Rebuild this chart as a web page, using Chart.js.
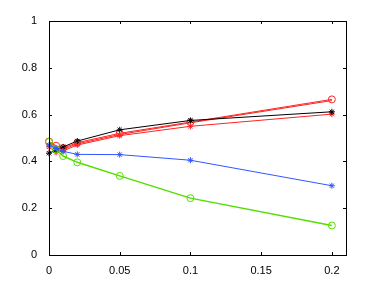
<!DOCTYPE html>
<html><head><meta charset="utf-8">
<script src="https://cdn.jsdelivr.net/npm/chart.js@4/dist/chart.umd.min.js"></script>
<style>html,body{margin:0;padding:0;background:#fff}#wrap{width:382px;height:287px}</style>
</head><body><div id="wrap"><canvas id="c" width="382" height="287"></canvas></div>
<script>
const xValues = [0, 0.005, 0.01, 0.02, 0.05, 0.1, 0.2];
const blackStar = [0.435, 0.448, 0.462, 0.487, 0.535, 0.575, 0.612];
const redCircle = [0.485, 0.467, 0.457, 0.480, 0.520, 0.568, 0.665];
const redPlain = [0.480, 0.462, 0.452, 0.475, 0.515, 0.565, 0.660];
const redStar = [0.462, 0.438, 0.445, 0.470, 0.510, 0.550, 0.602];
const blueStar = [0.470, 0.455, 0.443, 0.430, 0.429, 0.405, 0.296];
const greenCircle = [0.483, 0.451, 0.423, 0.396, 0.338, 0.243, 0.126];
const xTicks = [0, 0.05, 0.1, 0.15, 0.2];
const yTicks = [0, 0.2, 0.4, 0.6, 0.8, 1];

const pts = arr => arr.map((v, i) => ({x: xValues[i], y: v}));
function ds(arr, color, style, r, lw) {
  return {data: pts(arr), borderColor: color, backgroundColor: 'rgba(0,0,0,0)',
    pointStyle: style, pointRadius: r, pointBorderColor: color, pointBorderWidth: 1,
    borderWidth: lw, tension: 0, clip: false, pointHoverRadius: r};
}
const frame = {
  id: 'frame',
  afterDraw(chart) {
    const {ctx, chartArea: a, scales: {x, y}} = chart;
    ctx.save();
    ctx.strokeStyle = '#000';
    ctx.lineWidth = 1;
    ctx.strokeRect(Math.round(a.left) + 0.5, Math.round(a.top) + 0.5, Math.round(a.right - a.left), Math.round(a.bottom - a.top));
    ctx.beginPath();
    const L = 3;
    xTicks.forEach(t => {
      const px = Math.round(x.getPixelForValue(t)) + 0.5;
      ctx.moveTo(px, a.bottom); ctx.lineTo(px, a.bottom - L);
      ctx.moveTo(px, a.top); ctx.lineTo(px, a.top + L);
    });
    yTicks.forEach(t => {
      const py = Math.round(y.getPixelForValue(t)) + 0.5;
      ctx.moveTo(a.left, py); ctx.lineTo(a.left + L, py);
      ctx.moveTo(a.right, py); ctx.lineTo(a.right - L, py);
    });
    ctx.stroke();
    ctx.restore();
  }
};
new Chart(document.getElementById('c'), {
  type: 'line',
  data: {datasets: [
    ds(blueStar, '#3355ff', 'star', 3, 1),
    ds(greenCircle, '#55dd00', 'circle', 3.5, 1.5),
    ds(blackStar, '#000000', 'star', 3, 1),
    ds(redStar, '#ff2222', 'star', 3, 1),
    ds(redPlain, '#ff2222', false, 0, 1),
    ds(redCircle, '#ff2222', 'circle', 3.5, 1)
  ]},
  options: {
    responsive: false, animation: false, devicePixelRatio: 1,
    layout: {padding: {top: 21, right: 36, left: 0, bottom: 0}},
    plugins: {legend: {display: false}, tooltip: {enabled: false}},
    scales: {
      x: {type: 'linear', min: 0, max: 0.21,
        afterBuildTicks: s => { s.ticks = xTicks.map(v => ({value: v})); },
        afterFit: s => { s.height = 32; },
        grid: {display: false}, border: {display: false},
        ticks: {color: '#000', padding: 1, maxRotation: 0, font: {family: 'Liberation Sans', size: 11},
          callback: v => String(v)}},
      y: {type: 'linear', min: 0, max: 1,
        afterBuildTicks: s => { s.ticks = yTicks.map(v => ({value: v})); },
        afterFit: s => { s.width = 49; },
        grid: {display: false}, border: {display: false},
        ticks: {color: '#000', padding: 4, font: {family: 'Liberation Sans', size: 11},
          callback: v => String(v)}}
    }
  },
  plugins: [frame]
});
</script></body></html>
